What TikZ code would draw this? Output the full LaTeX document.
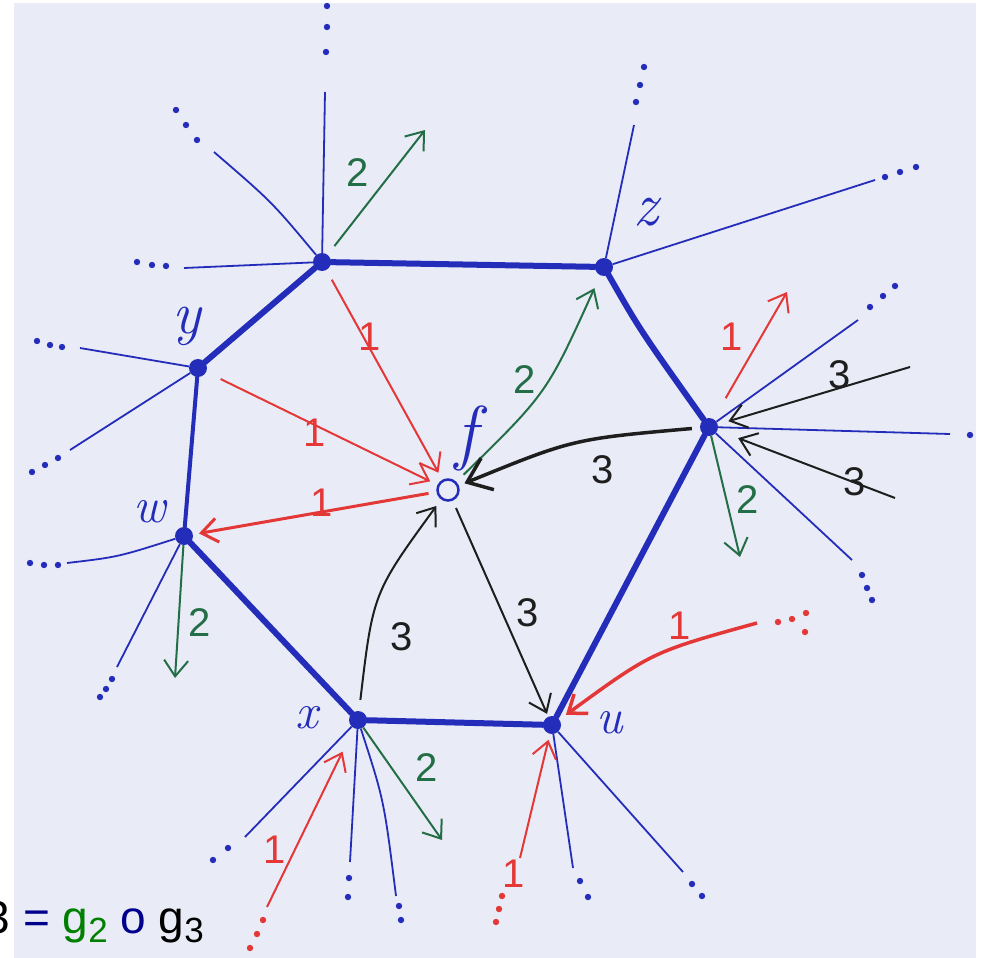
\documentclass[tikz,border=0pt]{standalone}
\usepackage{fontspec}
\setsansfont{Liberation Sans}
\usepackage{xcolor}
\usepackage{tikz}
\usetikzlibrary{arrows.meta}

\definecolor{paper}{RGB}{233,235,246}
\definecolor{inkblue}{RGB}{35,45,185}
\definecolor{inkred}{RGB}{228,55,55}
\definecolor{inkgreen}{RGB}{35,110,70}
\definecolor{inkblack}{RGB}{30,30,30}
\definecolor{navy}{RGB}{0,0,140}
\definecolor{fgreen}{RGB}{0,128,0}

\begin{document}
\begin{tikzpicture}[x=1pt, y=-1pt,
    vtx/.style={circle, fill=inkblue, inner sep=0pt, minimum size=18pt},
    hexedge/.style={draw=inkblue, line width=6pt, line cap=round},
    spoke/.style={draw=inkblue, line width=1.8pt},
    arr/.style={-{Straight Barb[length=16pt, width=24pt]}, line width=2pt},
    arrone/.style={arr, inkred},
    arrtwo/.style={arr, inkgreen},
    arrthree/.style={arr, inkblack},
    vname/.style={text=inkblue, font=\fontsize{50}{50}\selectfont\itshape},
    num/.style={font=\fontsize{40}{40}\selectfont\sffamily}]
  \useasboundingbox (0,0) rectangle (985,958);
  \clip (0,0) rectangle (985,958);
  \fill[white] (0,0) rectangle (985,958);
  \fill[paper] (14,3) rectangle (976,958);

  \node[vtx] (t) at (322,262) {};
  \node[vtx] (z) at (604,267) {};
  \node[vtx] (r) at (709,427) {};
  \node[vtx] (u) at (552,725) {};
  \node[vtx] (x) at (358,720) {};
  \node[vtx] (w) at (184,536) {};
  \node[vtx] (y) at (198,368) {};
  \node[circle, draw=inkblue, line width=2.5pt, minimum size=21pt, inner sep=0pt] (f) at (448,490) {};

  \node[vname, font=\fontsize{60}{60}\selectfont\itshape] (ly) at (187,326) {y};
  \node[vname] (lw) at (150,512) {w};
  \node[vname] (lx) at (307,718) {x};
  \node[vname] (lu) at (610,723) {u};
  \node[vname, font=\fontsize{62}{62}\selectfont\itshape] (lz) at (646,212) {z};
  \node[vname, font=\fontsize{72}{72}\selectfont\itshape] (lf) at (466,438) {f};

  \coordinate (t1) at (325,92);
  \coordinate (t2) at (214,152);
  \coordinate (t3) at (184,268);
  \coordinate (z1) at (634,125);
  \coordinate (z2) at (875,180);
  \coordinate (r1) at (858,320);
  \coordinate (r2) at (950,434);
  \coordinate (r3) at (852,560);
  \coordinate (u1) at (573,868);
  \coordinate (u2) at (683,872);
  \coordinate (x1) at (245,837);
  \coordinate (x2) at (350,862);
  \coordinate (x3) at (396,896);
  \coordinate (w1) at (67,563);
  \coordinate (w2) at (117,667);
  \coordinate (y1) at (80,348);
  \coordinate (y2) at (70,450);

  \draw[spoke] (t) -- (t1);
  \draw[spoke] (t) .. controls (272,202) .. (t2);
  \draw[spoke] (t) -- (t3);
  \draw[spoke] (z) -- (z1);
  \draw[spoke] (z) -- (z2);
  \draw[spoke] (r) -- (r1);
  \draw[spoke] (r) -- (r2);
  \draw[spoke] (r) -- (r3);
  \draw[spoke] (u) -- (u1);
  \draw[spoke] (u) -- (u2);
  \draw[spoke] (x) -- (x1);
  \draw[spoke] (x) -- (x2);
  \draw[spoke] (x) .. controls (384,800) .. (x3);
  \draw[spoke] (w) .. controls (118,557) .. (w1);
  \draw[spoke] (w) -- (w2);
  \draw[spoke] (y) -- (y1);
  \draw[spoke] (y) -- (y2);

  \foreach \p in {(326,52),(327,27),(327,6),(197,140),(186,125),(176,110),
                  (166,266),(152,265),(137,262),(636,102),(640,85),(644,67),
                  (885,177),(900,172),(916,167),(870,307),(883,296),(895,286),
                  (970,435),(862,575),(867,588),(872,600),(580,881),(588,897),
                  (692,884),(702,896),(228,848),(213,860),(349,878),(348,897),
                  (399,906),(401,920),(58,565),(44,565),(30,563),
                  (112,679),(106,689),(100,697),(62,347),(50,345),(37,341),
                  (58,458),(45,465),(32,472)}
    \fill[inkblue] \p circle (3.2pt);
  \foreach \p in {(263,920),(257,934),(250,948),(502,896),(499,909),(496,922),
                  (778,622),(792,619),(806,613),(805,632)}
    \fill[inkred] \p circle (3.2pt);

  \draw[hexedge] (t) -- (z);
  \draw[hexedge] (z) .. controls (640,330) .. (r);
  \draw[hexedge] (r) -- (u);
  \draw[hexedge] (u) -- (x);
  \draw[hexedge] (x) -- (w);
  \draw[hexedge, line width=4pt] (w) -- (y);
  \draw[hexedge] (y) -- (t);

  \coordinate (ga) at (425,130);
  \coordinate (ra) at (787,292);
  \coordinate (rb) at (910,367);
  \coordinate (rc) at (895,498);
  \coordinate (rd) at (740,557);
  \coordinate (xa) at (442,840);
  \coordinate (xb) at (267,907);
  \coordinate (ua) at (757,623);
  \coordinate (ub) at (520,858);
  \coordinate (wa) at (175,678);

  \draw[arrtwo, shorten <=11pt] (t) -- (ga);
  \draw[arrone, shorten <=11pt, shorten >=8pt] (t) -- (f);
  \draw[arrone, shorten <=16pt, shorten >=8pt] (y) -- (f);
  \draw[arrone, line width=3pt, shorten <=8pt, shorten >=6pt] (f) -- (w);
  \draw[arrtwo, shorten <=10pt, shorten >=14pt] (f) .. controls (547,393) .. (z);
  \draw[arrthree, line width=3.5pt, -{Straight Barb[length=22pt, width=34pt]}, shorten <=8pt, shorten >=6pt] (r) .. controls (573,439) .. (f);
  \draw[arrone, shorten <=24pt] (r) -- (ra);
  \draw[arrthree, shorten >=11pt] (rb) -- (r);
  \draw[arrthree, shorten >=22pt] (rc) -- (r);
  \draw[arrtwo] (r) -- (rd);
  \draw[arrthree, shorten <=11pt, shorten >=8pt] (x) .. controls (373,593) .. (f);
  \draw[arrthree, shorten <=8pt, shorten >=3pt] (f) -- (u);
  \draw[arrtwo] (x) -- (xa);
  \draw[arrone, shorten >=26pt] (xb) -- (x);
  \draw[arrone, shorten >=6pt] (ub) -- (u);
  \draw[arrone, line width=3.5pt, shorten >=8pt] (ua) .. controls (652,652) .. (u);
  \draw[arrtwo] (w) -- (wa);

  \node[num, text=inkgreen] (n1) at (358,173) {2};
  \node[num, text=inkred] (n2) at (370,337) {1};
  \node[num, text=inkred] (n3) at (315,433) {1};
  \node[num, text=inkred] (n4) at (322,503) {1};
  \node[num, text=inkgreen] (n5) at (525,380) {2};
  \node[num, text=inkblack] (n6) at (603,470) {3};
  \node[num, text=inkred] (n7) at (732,337) {1};
  \node[num, text=inkblack] (n8) at (840,375) {3};
  \node[num, text=inkblack] (n9) at (855,482) {3};
  \node[num, text=inkgreen] (n10) at (748,500) {2};
  \node[num, text=inkgreen] (n11) at (200,623) {2};
  \node[num, text=inkblack] (n12) at (402,637) {3};
  \node[num, text=inkblack] (n13) at (528,613) {3};
  \node[num, text=inkred] (n14) at (680,626) {1};
  \node[num, text=inkred] (n15) at (514,874) {1};
  \node[num, text=inkgreen] (n16) at (427,768) {2};
  \node[num, text=inkred] (n17) at (275,850) {1};

  \node[anchor=base west, inner sep=0pt, font=\fontsize{46}{46}\selectfont\sffamily] (comp) at (-15.5,933)
    {3 \textcolor{navy}{=} \textcolor{fgreen}{g\lower9pt\hbox{\fontsize{35}{35}\selectfont 2}} \textcolor{navy}{o} g\lower9pt\hbox{\fontsize{35}{35}\selectfont 3}};
\end{tikzpicture}
\end{document}
